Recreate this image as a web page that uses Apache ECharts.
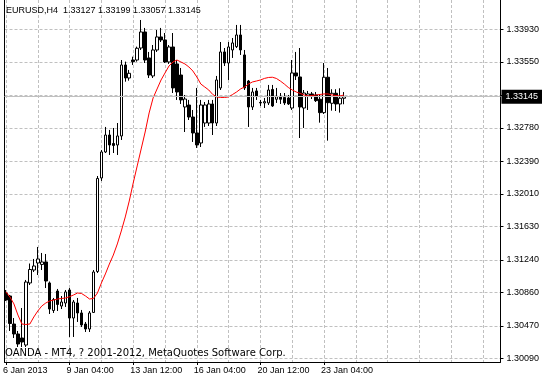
<!DOCTYPE html>
<html><head><meta charset="utf-8">
<script src="https://cdn.jsdelivr.net/npm/echarts@6/dist/echarts.min.js"></script>
<style>html,body{margin:0;padding:0;background:#fff}#c{width:542px;height:379px}</style>
</head><body><div id="c"></div>
<script>
const symbolName = 'EURUSD,H4';
const copyrightText = 'OANDA - MT4, ? 2001-2012, MetaQuotes Software Corp.';
const xLabelBars = [0, 16, 32, 48, 64, 80];
const xLabels = ['6 Jan 2013', '9 Jan 04:00', '13 Jan 12:00', '16 Jan 04:00', '20 Jan 12:00', '23 Jan 04:00'];
const xGridBars = [0, 8, 16, 24, 32, 40, 48, 56, 64, 72, 80, 88, 96, 104, 112, 120];
const yTickValues = [1.30090, 1.30470, 1.30860, 1.31240, 1.31630, 1.32010, 1.32390, 1.32780, 1.33165, 1.33550, 1.33930];
const yLabelValues = [1.30090, 1.30470, 1.30860, 1.31240, 1.31630, 1.32010, 1.32390, 1.32780, 1.33550, 1.33930];
const bidPrice = 1.33145;

const opens = [1.30855,1.30820,1.30493,1.30377,1.30330,1.30248,1.30972,1.31123,1.31205,1.31188,
1.31217,1.30972,1.30651,1.30878,1.30703,1.30738,1.30890,1.30563,1.30738,1.30622,
1.30493,1.30435,1.30628,1.31106,1.32197,1.32500,1.32698,1.32599,1.32582,1.32687,
1.33515,1.33363,1.33573,1.33573,1.33713,1.33900,1.33597,1.33387,1.33690,1.33842,
1.33807,1.33550,1.33725,1.33527,1.33398,1.33025,1.33048,1.32908,1.32722,1.32605,
1.32838,1.32838,1.33060,1.32838,1.33247,1.33667,1.33538,1.33690,1.33729,1.33865,
1.33632,1.33328,1.33025,1.33212,1.33078,1.33072,1.33072,1.33229,1.33115,1.33145,
1.33136,1.33130,1.33013,1.33422,1.33375,1.33013,1.33153,1.33177,1.33165,1.33115,
1.32959,1.33372,1.33068,1.33185,1.33060,1.33127];
const closes = [1.30773,1.30499,1.30377,1.30260,1.30283,1.30983,1.31129,1.31170,1.31252,1.31217,
1.30995,1.30668,1.30779,1.30721,1.30750,1.30867,1.30563,1.30750,1.30622,1.30482,
1.30435,1.30622,1.31100,1.32191,1.32500,1.32698,1.32582,1.32576,1.32687,1.33515,
1.33363,1.33418,1.33554,1.33710,1.33900,1.33573,1.33398,1.33690,1.33842,1.33807,
1.33550,1.33725,1.33247,1.33200,1.33107,1.33118,1.32908,1.32722,1.32582,1.33048,
1.33048,1.33060,1.32838,1.33340,1.33667,1.33538,1.33725,1.33772,1.33865,1.33690,
1.33247,1.33025,1.33200,1.33153,1.33072,1.33087,1.33223,1.33037,1.33145,1.33115,
1.33072,1.33060,1.33422,1.33387,1.33025,1.33188,1.33177,1.33153,1.33099,1.32959,
1.33372,1.33075,1.33185,1.33060,1.33127,1.33145];
const lows = [1.30762,1.30412,1.30330,1.30225,1.30225,1.30225,1.30948,1.31100,1.31065,1.31123,
1.30913,1.30610,1.30622,1.30645,1.30668,1.30692,1.30342,1.30342,1.30517,1.30458,
1.30400,1.30400,1.30622,1.31088,1.32162,1.32488,1.32465,1.32488,1.32465,1.32640,
1.33320,1.33332,1.33515,1.33554,1.33690,1.33538,1.33363,1.33363,1.33667,1.33783,
1.33538,1.33527,1.33188,1.33107,1.33060,1.32733,1.32873,1.32617,1.32547,1.32558,
1.32792,1.32803,1.32698,1.32803,1.33223,1.33503,1.33340,1.33597,1.33713,1.33632,
1.33223,1.32792,1.32990,1.33107,1.33037,1.33013,1.33048,1.33025,1.33072,1.33060,
1.33048,1.33048,1.32990,1.33340,1.32663,1.32780,1.32990,1.33118,1.33083,1.32842,
1.32943,1.32632,1.32982,1.32978,1.32959,1.33057];
const highs = [1.30890,1.30832,1.30563,1.30412,1.30680,1.31007,1.31199,1.31252,1.31392,1.31322,
1.31310,1.30989,1.30797,1.30902,1.30820,1.30890,1.30913,1.30773,1.30797,1.30657,
1.30517,1.30645,1.31123,1.32220,1.32523,1.32792,1.32757,1.32780,1.32838,1.33573,
1.33554,1.33457,1.33612,1.33729,1.34040,1.33947,1.33667,1.33748,1.33923,1.33947,
1.33888,1.33748,1.33888,1.33573,1.33480,1.33165,1.33107,1.32990,1.33247,1.33107,
1.33083,1.33107,1.33107,1.33387,1.33783,1.33713,1.33783,1.33830,1.33982,1.33982,
1.33690,1.33340,1.33247,1.33247,1.33107,1.33130,1.33282,1.33282,1.33247,1.33188,
1.33188,1.33165,1.33573,1.33667,1.33713,1.33223,1.33212,1.33200,1.33200,1.33165,
1.33538,1.33480,1.33232,1.33232,1.33243,1.33199];
const maValues = [1.30867,1.30808,1.30727,1.30598,1.30493,1.30488,1.30493,1.30575,1.30645,1.30703,
1.30738,1.30762,1.30773,1.30785,1.30791,1.30797,1.30812,1.30832,1.30855,1.30849,
1.30820,1.30785,1.30791,1.30855,1.30972,1.31077,1.31193,1.31298,1.31427,1.31578,
1.31742,1.31928,1.32138,1.32337,1.32535,1.32733,1.32955,1.33130,1.33235,1.33340,
1.33422,1.33503,1.33550,1.33573,1.33550,1.33527,1.33492,1.33445,1.33375,1.33293,
1.33258,1.33223,1.33171,1.33142,1.33136,1.33136,1.33142,1.33171,1.33200,1.33235,
1.33258,1.33293,1.33317,1.33328,1.33340,1.33358,1.33369,1.33372,1.33358,1.33328,
1.33293,1.33253,1.33223,1.33200,1.33183,1.33165,1.33153,1.33159,1.33165,1.33171,
1.33177,1.33177,1.33165,1.33159,1.33153,1.33165];

const candleData = opens.map((o, i) => [i, o, closes[i], lows[i], highs[i]]);
const maData = maValues.map((v, i) => [i, v]);
const last = opens.length - 1;
const header = symbolName + '  ' + [opens[last], highs[last], lows[last], closes[last]].map(v => v.toFixed(5)).join(' ');

const F = "'Liberation Sans', Arial, sans-serif";
const X_MIN = -0.375, X_MAX = 124.375, Y_MIN = 1.30050, Y_MAX = 1.34273;
const gridLine = {color: '#c0c0c0', type: [3, 2], width: 1};

const chart = echarts.init(document.getElementById('c'), null, {renderer: 'canvas'});
chart.setOption({
  animation: false,
  backgroundColor: '#fff',
  title: [
    {text: header, left: 6, top: 6, padding: 0,
     textStyle: {fontFamily: F, fontSize: 9, fontWeight: 'normal', color: '#000'}},
    {text: copyrightText, left: 5, top: 348, padding: 0,
     textStyle: {fontFamily: "'DejaVu Sans', sans-serif", fontSize: 10, fontWeight: 'normal', color: '#000'}}
  ],
  grid: {left: 2, right: 41, top: 0, bottom: 17, show: false},
  xAxis: [
    {type: 'value', min: X_MIN, max: X_MAX, position: 'bottom',
     axisLine: {show: true, onZero: false, lineStyle: {color: '#000', width: 1}},
     axisTick: {show: true, length: 3, customValues: xLabelBars, lineStyle: {color: '#000'}},
     axisLabel: {show: true, customValues: xLabelBars,
       formatter: v => { const k = xLabelBars.indexOf(Math.round(v)); return k >= 0 ? xLabels[k] : ''; },
       align: 'left', margin: 4, padding: [0, 0, 0, -3], fontFamily: F, fontSize: 9, color: '#000'},
     splitLine: {show: false}},
    {type: 'value', min: X_MIN, max: X_MAX, position: 'top',
     axisLine: {show: false, onZero: false},
     axisTick: {show: false, customValues: xGridBars},
     axisLabel: {show: false},
     splitLine: {show: true, lineStyle: gridLine}}
  ],
  yAxis: [
    {type: 'value', position: 'right', min: Y_MIN, max: Y_MAX,
     axisLine: {show: true, onZero: false, lineStyle: {color: '#000', width: 1}},
     axisTick: {show: true, length: 3, customValues: yTickValues, lineStyle: {color: '#000'}},
     axisLabel: {show: true, customValues: yLabelValues, formatter: v => v.toFixed(5),
       margin: 6, fontFamily: F, fontSize: 9, color: '#000'},
     splitLine: {show: true, lineStyle: gridLine}},
    {type: 'value', position: 'left', min: Y_MIN, max: Y_MAX,
     axisLine: {show: true, onZero: false, lineStyle: {color: '#000', width: 1}},
     axisTick: {show: false}, axisLabel: {show: false}, splitLine: {show: false}}
  ],
  series: [
    {type: 'candlestick', xAxisIndex: 0, yAxisIndex: 0, data: candleData,
     encode: {x: 0, y: [1, 2, 3, 4]}, barWidth: 3,
     itemStyle: {color: '#fff', color0: '#000', borderColor: '#000', borderColor0: '#000', borderColorDoji: '#000', borderWidth: 1},
     emphasis: {disabled: true}},
    {type: 'line', xAxisIndex: 0, yAxisIndex: 0, data: maData, showSymbol: false, symbol: 'none',
     lineStyle: {color: '#ff0000', width: 1}, z: 3, emphasis: {disabled: true},
     markLine: {silent: true, symbol: ['none', 'none'], animation: false, precision: 5,
       data: [{yAxis: bidPrice}],
       lineStyle: {color: '#c0c0c0', type: 'solid', width: 1},
       label: {show: true, position: 'end', formatter: () => bidPrice.toFixed(5),
         color: '#fff', backgroundColor: '#000', padding: [2, 4, 1, 4], distance: 1,
         fontFamily: F, fontSize: 9, lineHeight: 11},
       emphasis: {disabled: true}}}
  ]
});
</script>
</body></html>
